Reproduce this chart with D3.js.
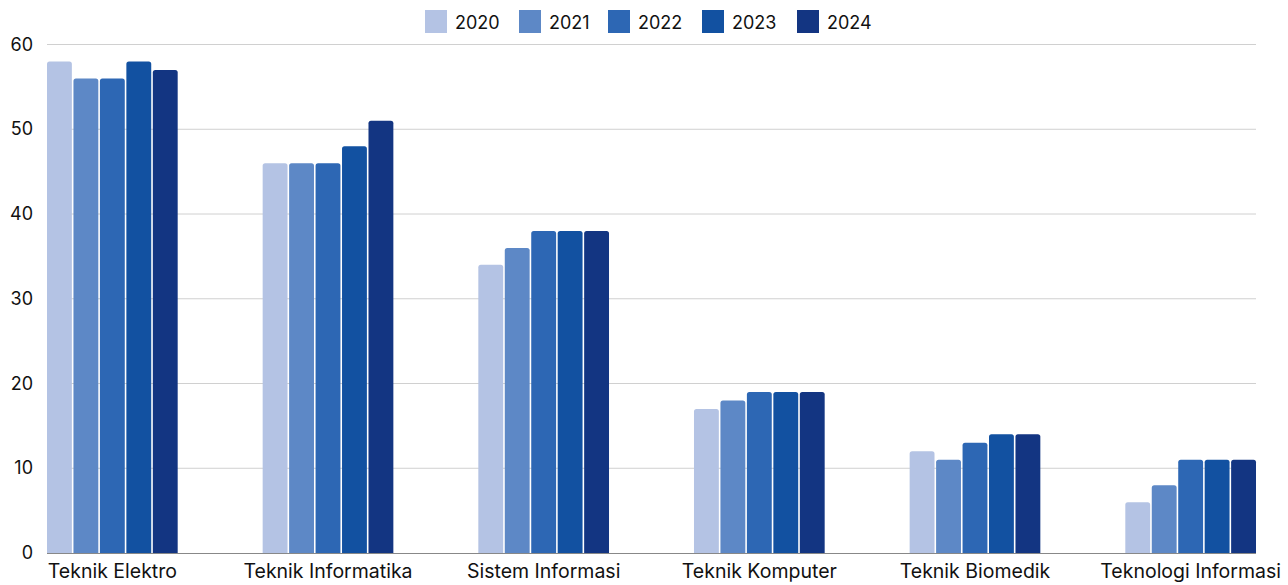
<!DOCTYPE html>
<html><head><meta charset="utf-8">
<script src="https://cdn.jsdelivr.net/npm/d3@7"></script>
<style>body{margin:0;background:#fff;}svg{display:block;font-family:Inter,"Liberation Sans",sans-serif;}</style>
</head><body><svg id="c" width="1288" height="585"></svg>
<script>
const categories = ["Teknik Elektro","Teknik Informatika","Sistem Informasi","Teknik Komputer","Teknik Biomedik","Teknologi Informasi"];
const years = ["2020","2021","2022","2023","2024"];
const colors = ["#b4c3e4","#5d88c6","#2d67b4","#1251a1","#133582"];
const v2020 = [58,46,34,17,12,6];
const v2021 = [56,46,36,18,11,8];
const v2022 = [56,46,38,19,13,11];
const v2023 = [58,48,38,19,14,11];
const v2024 = [57,51,38,19,14,11];
const series = [v2020,v2021,v2022,v2023,v2024];
const yTicks = [0,10,20,30,40,50,60];

const svg = d3.select("#c");
const L = 47, R = 1256, T = 44.5, B = 553;
const x = d3.scaleBand().domain(categories).range([L,R]).paddingInner(0.394).paddingOuter(0);
const xi = d3.scaleBand().domain(years).range([0,x.bandwidth()]).paddingInner(0.06);
const y = d3.scaleLinear().domain([0,60]).range([B,T]);

// grid
svg.append("g").selectAll("line").data(yTicks.filter(d=>d>0)).join("line")
  .attr("x1",L).attr("x2",R).attr("y1",d=>y(d)).attr("y2",d=>y(d))
  .attr("stroke","#d0d0d0").attr("stroke-width",1);
svg.append("g").selectAll("text").data(yTicks).join("text")
  .attr("x",33).attr("y",d=>y(d)+6).attr("text-anchor","end")
  .attr("font-size",18).attr("fill","#111").text(d=>d);

function barPath(x0,y0,w,h){
  const r=Math.min(2.5,h,w/2);
  return `M${x0},${y0+h}V${y0+r}Q${x0},${y0} ${x0+r},${y0}H${x0+w-r}Q${x0+w},${y0} ${x0+w},${y0+r}V${y0+h}Z`;
}
const g = svg.append("g");
categories.forEach((c,ci)=>{
  years.forEach((yr,si)=>{
    const v = series[si][ci];
    const x0 = x(c)+xi(yr);
    g.append("path").attr("d",barPath(x0,y(v),xi.bandwidth(),y(0)-y(v))).attr("fill",colors[si]);
  });
});
// baseline
svg.append("line").attr("x1",L).attr("x2",R).attr("y1",B+0.5).attr("y2",B+0.5).attr("stroke","#888").attr("stroke-width",1);
// x labels
svg.append("g").selectAll("text").data(categories).join("text")
  .attr("x",d=>x(d)+x.bandwidth()/2).attr("y",578).attr("text-anchor","middle")
  .attr("font-size",19.5).attr("fill","#111").text(d=>d);
// legend
const legX = [425,519,608,702,797];
const lg = svg.append("g");
years.forEach((yr,i)=>{
  lg.append("rect").attr("x",legX[i]).attr("y",10).attr("width",22).attr("height",23).attr("fill",colors[i]);
  lg.append("text").attr("x",legX[i]+30).attr("y",28.5).attr("font-size",18).attr("fill","#111").text(yr);
});
</script></body></html>
